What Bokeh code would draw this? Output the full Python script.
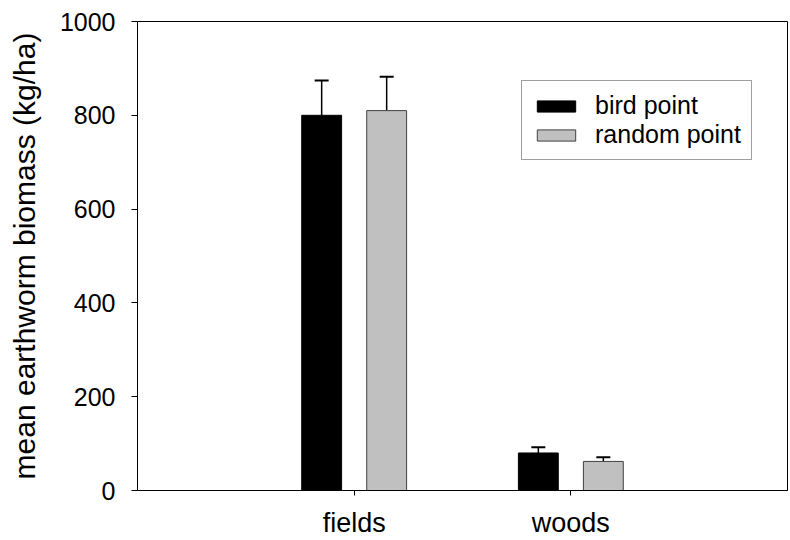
from bokeh.plotting import figure
from bokeh.models import (Range1d, FixedTicker, ColumnDataSource, Whisker, TeeHead,
                          Legend, LegendItem)
from bokeh.embed import file_html
from bokeh.resources import INLINE

# ---- data ----
categories = ["fields", "woods"]
bird_mean = [800, 80]
bird_se = [74, 12]
random_mean = [810, 62]
random_se = [72, 9]
y_ticks = [0, 200, 400, 600, 800, 1000]

FONT = "Liberation Sans"
pos = [i + 1 for i in range(len(categories))]
off = 0.15
bw = 0.184

p = figure(frame_width=650, frame_height=469, output_backend="svg",
           toolbar_location=None, x_range=Range1d(0, len(categories) + 1),
           y_range=Range1d(0, 1000))
p.min_border_left = 137
p.min_border_top = 21
p.min_border_right = 3
p.min_border_bottom = 0
p.background_fill_color = "white"
p.border_fill_color = "white"
p.outline_line_color = "black"
p.outline_line_width = 1
p.xgrid.visible = False
p.ygrid.visible = False

bird_x = [c - off for c in pos]
rand_x = [c + off for c in pos]

src_b = ColumnDataSource(dict(x=bird_x, top=bird_mean,
                              up=[m + e for m, e in zip(bird_mean, bird_se)]))
src_r = ColumnDataSource(dict(x=rand_x, top=random_mean,
                              up=[m + e for m, e in zip(random_mean, random_se)]))

for src in (src_b, src_r):
    w = Whisker(source=src, base="x", lower="top", upper="up", dimension="height",
                line_color="black", line_width=1.5,
                upper_head=TeeHead(size=14, line_color="black", line_width=2),
                lower_head=None, level="underlay")
    p.add_layout(w)

r_b = p.vbar(x="x", top="top", width=bw, source=src_b, fill_color="black",
             line_color="black", line_width=1)
r_r = p.vbar(x="x", top="top", width=bw, source=src_r, fill_color="#c0c0c0",
             line_color="#404040", line_width=1)

# axes
p.xaxis.ticker = FixedTicker(ticks=pos)
p.xaxis.major_label_overrides = {c: lab for c, lab in zip(pos, categories)}
p.xaxis.minor_tick_line_color = None
p.xaxis.major_tick_in = 0
p.xaxis.major_tick_out = 5
p.xaxis.major_label_standoff = 12
p.xaxis.major_label_text_font = FONT
p.xaxis.major_label_text_font_size = "27px"
p.xaxis.major_label_text_color = "black"
p.xaxis.axis_line_color = "black"
p.xaxis.major_tick_line_color = "black"

p.yaxis.ticker = FixedTicker(ticks=y_ticks)
p.yaxis.minor_tick_line_color = None
p.yaxis.major_tick_in = 0
p.yaxis.major_tick_out = 6
p.yaxis.major_label_standoff = 16
p.yaxis.major_label_text_font = FONT
p.yaxis.major_label_text_font_size = "25px"
p.yaxis.major_label_text_color = "black"
p.yaxis.axis_line_color = "black"
p.yaxis.major_tick_line_color = "black"
p.yaxis.axis_label = "mean earthworm biomass (kg/ha)"
p.yaxis.axis_label_text_font = FONT
p.yaxis.axis_label_text_font_size = "30px"
p.yaxis.axis_label_text_font_style = "normal"
p.yaxis.axis_label_text_color = "black"
p.yaxis.axis_label_standoff = 16

legend = Legend(items=[LegendItem(label="bird point", renderers=[r_b]),
                       LegendItem(label="random point", renderers=[r_r])],
                location=(384, 330))
legend.glyph_width = 48
legend.glyph_height = 14
legend.label_standoff = 15
legend.padding = 10
legend.spacing = 0
legend.margin = 0
legend.label_text_font = FONT
legend.label_text_font_size = "25px"
legend.label_text_color = "black"
legend.border_line_color = "#404040"
legend.border_line_width = 1
legend.background_fill_alpha = 1
p.add_layout(legend, "center")

open("out.html", "w").write(file_html(p, INLINE))
